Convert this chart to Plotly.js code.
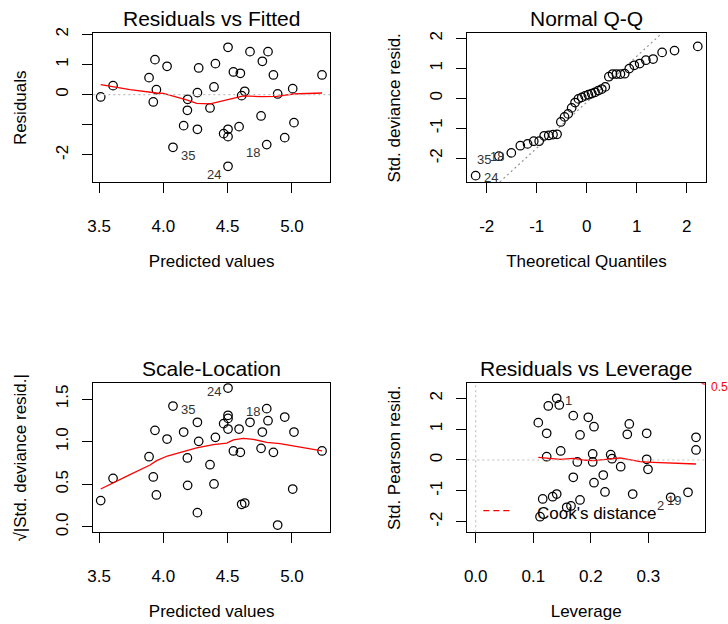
<!DOCTYPE html>
<html><head><meta charset="utf-8">
<script src="https://cdn.plot.ly/plotly-3.0.1.min.js"></script>
<style>html,body{margin:0;padding:0;background:#fff}#chart{width:728px;height:624px}</style>
</head><body><div id="chart"></div>
<script>
// ---- Residuals vs Fitted / Scale-Location (shared fitted values) ----
const fitted = [3.513,3.609,3.889,3.935,3.946,3.922,4.029,4.075,4.158,4.189,4.187,4.265,4.275,4.265,4.363,4.394,4.405,4.469,4.503,4.503,4.503,4.503,4.545,4.599,4.589,4.609,4.633,4.674,4.760,4.770,4.804,4.814,4.856,4.889,4.944,5.006,5.016,5.234];
const residuals = [-0.077,0.298,0.564,1.160,0.166,-0.243,0.939,-1.746,-1.028,-0.155,-0.519,0.066,0.884,-1.149,-0.442,0.254,1.028,-1.293,1.569,-1.149,-1.392,-2.376,0.751,0.707,-1.061,-0.033,0.110,1.425,-0.707,1.105,-1.657,1.425,0.652,0.022,-1.425,0.199,-0.928,0.652];
const sqrtAbsStdDevRes = [0.309,0.570,0.824,1.133,0.375,0.586,1.031,1.418,1.113,0.488,0.809,0.168,1.004,1.227,0.730,0.504,1.051,1.211,1.309,1.148,1.273,1.629,0.891,0.875,1.148,0.266,0.281,1.227,0.922,1.113,1.387,1.246,0.875,0.023,1.289,0.445,1.113,0.891];
const pointIds = ['','','','','','','','35','','','','','','','','','','','','','','24','','','','','','','','','18','','','','','','',''];
const residSmoothX = [3.513,3.741,3.948,4.000,4.181,4.259,4.363,4.440,4.545,4.623,4.752,4.881,5.011,5.234];
const residSmoothY = [0.331,0.166,0.055,0.040,-0.177,-0.287,-0.309,-0.232,-0.144,-0.044,-0.066,-0.055,0.022,0.055];
const slSmoothX = [3.513,3.611,3.741,3.897,3.948,4.031,4.130,4.259,4.389,4.493,4.545,4.622,4.700,4.804,4.907,5.037,5.167,5.234];
const slSmoothY = [0.445,0.520,0.613,0.727,0.777,0.832,0.871,0.926,0.965,0.984,1.020,1.039,1.027,0.992,0.977,0.945,0.914,0.891];

// ---- Normal Q-Q ----
const theoQuantiles = [-2.221,-1.756,-1.508,-1.328,-1.183,-1.059,-0.951,-0.851,-0.760,-0.674,-0.593,-0.517,-0.443,-0.371,-0.301,-0.233,-0.166,-0.099,-0.033,0.033,0.099,0.166,0.233,0.301,0.371,0.443,0.517,0.593,0.674,0.760,0.851,0.951,1.059,1.183,1.328,1.508,1.756,2.221];
const sortedStdDevRes = [-2.58,-1.93,-1.82,-1.58,-1.52,-1.43,-1.43,-1.25,-1.24,-1.21,-1.20,-0.79,-0.62,-0.52,-0.32,-0.14,-0.02,0.03,0.08,0.12,0.16,0.20,0.26,0.31,0.38,0.72,0.81,0.81,0.81,0.82,0.99,1.10,1.16,1.27,1.31,1.53,1.59,1.73];
const qqIds = ['24','35','18'];
const qqLineIntercept = -0.13;
const qqLineSlope = 1.53;

// ---- Residuals vs Leverage ----
const leverage = [0.1407,0.1261,0.1452,0.1695,0.1956,0.1087,0.2055,0.1233,0.1812,0.1476,0.1233,0.2032,0.1765,0.2032,0.1695,0.2216,0.2055,0.2246,0.1164,0.1337,0.1407,0.1812,0.1581,0.1655,0.1117,0.2668,0.2633,0.2970,0.2345,0.2368,0.2519,0.2970,0.2993,0.2727,0.3387,0.3688,0.3827,0.3827];
const pearsonRes = [2.001,1.752,1.784,1.437,1.385,1.210,1.080,0.866,0.811,0.292,0.107,0.195,-0.065,-0.065,-0.561,-0.487,-0.736,-1.038,-1.265,-1.190,-1.103,-1.297,-1.534,-1.492,-1.839,1.168,0.833,0.866,0.172,0.042,-0.217,0.023,-0.302,-1.103,-1.210,-1.048,0.736,0.324];
const levIds = ['1','','','','','','','','','','','','','','','','','','','','','','','','','','','','','','','','','','2','19','',''];
const levSmoothX = [0.1087,0.1291,0.1465,0.1697,0.1870,0.2044,0.2218,0.2391,0.2507,0.2681,0.2855,0.3086,0.3434,0.3827];
const levSmoothY = [0.086,0.043,0.022,0.054,0.000,-0.022,0.022,0.043,0.065,0.000,-0.054,-0.076,-0.108,-0.130];
const cookLevel = '0.5';
const cookX = [0.3925,0.3983];
const cookY = [2.486,2.458];

// ---- tick labels ----
const fitTickVals = [3.5,4.0,4.5,5.0], fitTickText = ['3.5','4.0','4.5','5.0'];
const residTickVals = [-2,-1,0,1,2], residTickText = ['-2','','0','1','2'];
const qqTickVals = [-2,-1,0,1,2], qqTickText = ['-2','-1','0','1','2'];
const slTickVals = [0,0.5,1,1.5], slTickText = ['0.0','0.5','1.0','1.5'];
const levTickVals = [0,0.1,0.2,0.3], levTickText = ['0.0','0.1','0.2','0.3'];
const pearTickVals = [-2,-1,0,1,2], pearTickText = ['-2','-1','0','1','2'];

const FONT = 'Liberation Sans, Arial, Helvetica, sans-serif';
function axis(domain, range, tv, tt, title, isY) {
  return {
    domain: domain, range: range, tickmode: 'array', tickvals: tv, ticktext: tt,
    showline: true, linecolor: 'black', linewidth: 1, mirror: true,
    ticks: 'outside', ticklen: 10, tickwidth: 1, tickcolor: 'black',
    showgrid: false, zeroline: false, fixedrange: true, automargin: false,
    tickfont: {size: 17, color: 'black', family: FONT},
    tickangle: isY ? -90 : 0,
    ticklabelstandoff: isY ? 8 : 18,
    title: {text: title, font: {size: 17, color: 'black', family: FONT}, standoff: isY ? 21 : 20}
  };
}
const pts = {symbol: 'circle-open', size: 8.5, color: 'black', line: {width: 1.25, color: 'black'}};
const red = {color: '#FF0000', width: 1.3};

const traces = [
  {x: fitted, y: residuals, xaxis: 'x', yaxis: 'y', mode: 'markers', marker: pts, cliponaxis: false},
  {x: residSmoothX, y: residSmoothY, xaxis: 'x', yaxis: 'y', mode: 'lines', line: red},
  {x: [-2.4, 2.4], y: [qqLineIntercept + qqLineSlope * -2.4, qqLineIntercept + qqLineSlope * 2.4], xaxis: 'x2', yaxis: 'y2', mode: 'lines', line: {color: '#8C8C8C', width: 1.1, dash: '2px,3px'}},
  {x: theoQuantiles, y: sortedStdDevRes, xaxis: 'x2', yaxis: 'y2', mode: 'markers', marker: pts, cliponaxis: false},
  {x: fitted, y: sqrtAbsStdDevRes, xaxis: 'x3', yaxis: 'y3', mode: 'markers', marker: pts, cliponaxis: false},
  {x: slSmoothX, y: slSmoothY, xaxis: 'x3', yaxis: 'y3', mode: 'lines', line: red},
  {x: leverage, y: pearsonRes, xaxis: 'x4', yaxis: 'y4', mode: 'markers', marker: pts, cliponaxis: false},
  {x: levSmoothX, y: levSmoothY, xaxis: 'x4', yaxis: 'y4', mode: 'lines', line: red},
  {x: cookX, y: cookY, xaxis: 'x4', yaxis: 'y4', mode: 'lines', line: {color: '#FF0000', width: 1.3, dash: '6px,4px'}, cliponaxis: false}
];

const idFont = {size: 13, color: '#333333', family: FONT};
function lab(xref, yref, x, y, t, anchor, xs, ys) {
  return {xref: xref, yref: yref, x: x, y: y, text: t, xanchor: anchor, yanchor: 'middle', xshift: xs, yshift: ys, showarrow: false, font: idFont};
}
const ann = [];
// panel titles
const tFont = {size: 21, color: 'black', family: FONT};
ann.push({xref: 'paper', yref: 'paper', x: 0.2907, y: 0.9696, text: 'Residuals vs Fitted', showarrow: false, xanchor: 'center', yanchor: 'middle', font: tFont});
ann.push({xref: 'paper', yref: 'paper', x: 0.8056, y: 0.9696, text: 'Normal Q-Q', showarrow: false, xanchor: 'center', yanchor: 'middle', font: tFont});
ann.push({xref: 'paper', yref: 'paper', x: 0.2907, y: 0.4087, text: 'Scale-Location', showarrow: false, xanchor: 'center', yanchor: 'middle', font: tFont});
ann.push({xref: 'paper', yref: 'paper', x: 0.8056, y: 0.4087, text: 'Residuals vs Leverage', showarrow: false, xanchor: 'center', yanchor: 'middle', font: tFont});
// id labels
pointIds.forEach((t, i) => {
  if (!t) return;
  if (t === '35') {
    ann.push(lab('x', 'y', fitted[i], residuals[i], t, 'left', 6, -8));
    ann.push(lab('x3', 'y3', fitted[i], sqrtAbsStdDevRes[i], t, 'left', 6, -3));
  } else {
    ann.push(lab('x', 'y', fitted[i], residuals[i], t, 'right', -5, -8));
    ann.push(lab('x3', 'y3', fitted[i], sqrtAbsStdDevRes[i], t, 'right', -5, -3));
  }
});
ann.push(lab('x2', 'y2', theoQuantiles[0], sortedStdDevRes[0], qqIds[0], 'left', 6, -2));
ann.push(lab('x2', 'y2', theoQuantiles[1], sortedStdDevRes[1], qqIds[1], 'right', -6, -3));
ann.push(lab('x2', 'y2', theoQuantiles[2], sortedStdDevRes[2], qqIds[2], 'right', -5, -4));
levIds.forEach((t, i) => {
  if (!t) return;
  if (t === '1') ann.push(lab('x4', 'y4', leverage[i], pearsonRes[i], t, 'left', 6, -2));
  else ann.push(lab('x4', 'y4', leverage[i], pearsonRes[i], t, 'right', -5, -8));
});
ann.push({xref: 'x4 domain', yref: 'y4', x: 1, y: cookY[1], text: cookLevel, xanchor: 'left', yanchor: 'middle', xshift: 4, yshift: -3, showarrow: false, font: {size: 12, color: '#FF0000', family: FONT}});
ann.push({xref: 'paper', yref: 'paper', x: 0.7349, y: 0.1763, text: "Cook's distance", xanchor: 'left', yanchor: 'middle', showarrow: false, font: {size: 17, color: 'black', family: FONT}});

const shapes = [
  {type: 'line', xref: 'x domain', yref: 'y', x0: 0, x1: 1, y0: 0, y1: 0, line: {color: '#BEBEBE', width: 1.1, dash: '2px,3px'}},
  {type: 'line', xref: 'x4 domain', yref: 'y4', x0: 0, x1: 1, y0: 0, y1: 0, line: {color: '#BEBEBE', width: 1.1, dash: '2px,3px'}},
  {type: 'line', xref: 'x4', yref: 'y4 domain', x0: 0, x1: 0, y0: 0, y1: 1, line: {color: '#BEBEBE', width: 1.1, dash: '2px,3px'}},
  {type: 'line', xref: 'paper', yref: 'paper', x0: 0.6639, x1: 0.7043, y0: 0.1816, y1: 0.1816, line: {color: '#FF0000', width: 1.3, dash: '6px,4px'}}
];

const layout = {
  width: 728, height: 624, margin: {l: 0, r: 0, t: 0, b: 0},
  paper_bgcolor: 'white', plot_bgcolor: 'white', showlegend: false,
  font: {family: FONT, color: 'black'},
  xaxis: Object.assign(axis([0.1282, 0.4533], [3.4557, 5.296], fitTickVals, fitTickText, 'Predicted values', false), {anchor: 'y'}),
  yaxis: Object.assign(axis([0.7079, 0.9466], [-2.905, 2.033], residTickVals, residTickText, 'Residuals', true), {anchor: 'x'}),
  xaxis2: Object.assign(axis([0.6419, 0.9694], [-2.388, 2.38], qqTickVals, qqTickText, 'Theoretical Quantiles', false), {anchor: 'y2'}),
  yaxis2: Object.assign(axis([0.7079, 0.9466], [-2.8, 2.167], qqTickVals, qqTickText, 'Std. deviance resid.', true), {anchor: 'x2'}),
  xaxis3: Object.assign(axis([0.1282, 0.4533], [3.4557, 5.296], fitTickVals, fitTickText, 'Predicted values', false), {anchor: 'y3'}),
  yaxis3: Object.assign(axis([0.1470, 0.3857], [-0.062, 1.684], slTickVals, slTickText, '√|Std. deviance resid.|', true), {anchor: 'x3'}),
  xaxis4: Object.assign(axis([0.6419, 0.9684], [-0.0146, 0.3983], levTickVals, levTickText, 'Leverage', false), {anchor: 'y4'}),
  yaxis4: Object.assign(axis([0.1470, 0.3857], [-2.344, 2.486], pearTickVals, pearTickText, 'Std. Pearson resid.', true), {anchor: 'x4'}),
  annotations: ann, shapes: shapes
};
Plotly.newPlot('chart', traces, layout, {staticPlot: true, displayModeBar: false});
</script></body></html>
